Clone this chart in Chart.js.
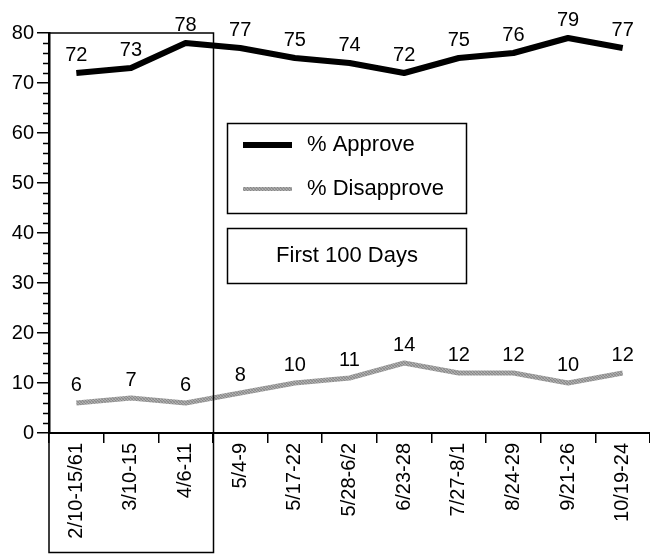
<!DOCTYPE html>
<html><head><meta charset="utf-8">
<style>html,body{margin:0;padding:0;background:#fff}#wrap{width:650px;height:554px;position:relative}</style>
<script src="https://cdn.jsdelivr.net/npm/chart.js@4/dist/chart.umd.min.js"></script>
</head><body><div id="wrap"><canvas id="c" width="650" height="554"></canvas></div>
<script>
const categories = ['2/10-15/61','3/10-15','4/6-11','5/4-9','5/17-22','5/28-6/2','6/23-28','7/27-8/1','8/24-29','9/21-26','10/19-24'];
const approve = [72,73,78,77,75,74,72,75,76,79,77];
const disapprove = [6,7,6,8,10,11,14,12,12,10,12];
const yTicks = [0,10,20,30,40,50,60,70,80];
const seriesNames = ['% Approve','% Disapprove'];
const boxLabel = 'First 100 Days';
const first100Count = 3;

const FONT = "'Liberation Sans', Arial, Helvetica, sans-serif";

function grayPattern(){
  const p = document.createElement('canvas'); p.width = 3; p.height = 3;
  const g = p.getContext('2d');
  const cols = ['#8a8a8a','#b4b4b4','#9c9c9c','#b0b0b0','#868686','#a8a8a8','#9a9a9a','#a4a4a4','#8e8e8e'];
  for (let i = 0; i < 9; i++){ g.fillStyle = cols[i]; g.fillRect(i % 3, Math.floor(i / 3), 1, 1); }
  return document.getElementById('c').getContext('2d').createPattern(p, 'repeat');
}
const grayFill = grayPattern();

const minorTicks = {
  id: 'minorTicks',
  afterDraw(chart){
    const y = chart.scales.y, ctx = chart.ctx, left = chart.chartArea.left;
    ctx.save(); ctx.strokeStyle = '#000'; ctx.lineWidth = 1.5;
    for (let v = y.min; v <= y.max; v += 2){
      if (yTicks.includes(v)) continue;
      const py = Math.round(y.getPixelForValue(v)) + 0.5;
      ctx.beginPath(); ctx.moveTo(left - 6, py); ctx.lineTo(left, py); ctx.stroke();
    }
    ctx.restore();
  }
};

const valueLabels = {
  id: 'valueLabels',
  afterDatasetsDraw(chart){
    const ctx = chart.ctx;
    ctx.save();
    ctx.font = '20px ' + FONT; ctx.fillStyle = '#000';
    ctx.textAlign = 'center'; ctx.textBaseline = 'alphabetic';
    chart.data.datasets.forEach((ds, di) => {
      chart.getDatasetMeta(di).data.forEach((pt, i) => {
        ctx.fillText(String(ds.data[i]), pt.x, pt.y - 12);
      });
    });
    ctx.restore();
  }
};

const annotations = {
  id: 'annotations',
  afterDraw(chart){
    const ctx = chart.ctx, a = chart.chartArea, x = chart.scales.x;
    ctx.save();
    ctx.strokeStyle = '#000'; ctx.lineWidth = 1.5;
    // First 100 days box
    const right = Math.round((x.getPixelForValue(first100Count - 1) + x.getPixelForValue(first100Count)) / 2) + 0.5;
    ctx.strokeRect(a.left, a.top, right - a.left, chart.height - 1.5 - a.top);
    // Legend box
    ctx.strokeRect(227.5, 123.5, 239, 90);
    ctx.lineCap = 'butt';
    ctx.strokeStyle = '#000'; ctx.lineWidth = 6;
    ctx.beginPath(); ctx.moveTo(243, 145); ctx.lineTo(292, 145); ctx.stroke();
    ctx.strokeStyle = grayFill; ctx.lineWidth = 4;
    ctx.beginPath(); ctx.moveTo(243, 189); ctx.lineTo(292, 189); ctx.stroke();
    ctx.font = '22px ' + FONT; ctx.fillStyle = '#000';
    ctx.textAlign = 'left'; ctx.textBaseline = 'middle';
    ctx.fillText(seriesNames[0], 307, 145);
    ctx.fillText(seriesNames[1], 307, 189);
    // First 100 days label box
    ctx.strokeStyle = '#000'; ctx.lineWidth = 1.5;
    ctx.strokeRect(227.5, 228.5, 239, 55);
    ctx.textAlign = 'center';
    ctx.fillText(boxLabel, 347, 256);
    ctx.restore();
  }
};

new Chart(document.getElementById('c'), {
  type: 'line',
  data: {
    labels: categories,
    datasets: [
      { label: seriesNames[0], data: approve, borderColor: '#000', borderWidth: 6, pointRadius: 0, tension: 0, fill: false, borderJoinStyle: 'round', borderCapStyle: 'butt' },
      { label: seriesNames[1], data: disapprove, borderColor: grayFill, borderWidth: 5, pointRadius: 0, tension: 0, fill: false, borderJoinStyle: 'round', borderCapStyle: 'butt' }
    ]
  },
  options: {
    responsive: false,
    animation: false,
    devicePixelRatio: 1,
    layout: { padding: { top: 33, right: 0, left: 0, bottom: 0 } },
    plugins: { legend: { display: false }, tooltip: { enabled: false }, title: { display: false } },
    scales: {
      x: {
        type: 'category',
        offset: true,
        grid: { offset: true, drawOnChartArea: false, drawTicks: true, tickLength: 10, color: '#000', lineWidth: 1.5 },
        border: { display: true, color: '#000', width: 2 },
        ticks: { autoSkip: false, maxRotation: 90, minRotation: 90, padding: 0, color: '#000', font: { family: FONT, size: 20 } },
        afterFit(s){ s.height = 121; }
      },
      y: {
        min: 0, max: 80,
        afterBuildTicks(s){ s.ticks = yTicks.map(v => ({ value: v })); },
        grid: { drawOnChartArea: false, drawTicks: true, tickLength: 12, color: '#000', lineWidth: 1.5 },
        border: { display: true, color: '#000', width: 2.5 },
        ticks: { padding: 3, color: '#000', font: { family: FONT, size: 20 } },
        afterFit(s){ s.width = 49; }
      }
    }
  },
  plugins: [minorTicks, valueLabels, annotations]
});
</script>
</body></html>
